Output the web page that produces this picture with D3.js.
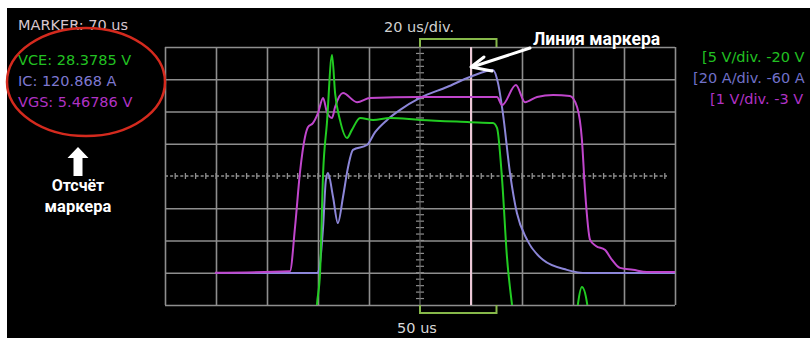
<!DOCTYPE html>
<html><head><meta charset="utf-8">
<script src="https://cdn.jsdelivr.net/npm/d3@7"></script>
<style>body{margin:0;background:#fff;overflow:hidden} svg{display:block}</style>
</head><body>
<svg id="c" width="810" height="338"></svg>
<script>
// ---- data (time in us, amplitude in screen divisions) ----
const timeTicks = [-50, -30, -10, 10, 30, 50, 70, 90, 110, 130, 150];
const divTicks = [0, 1, 2, 3, 4, 5, 6, 7, 8];
const markerTime = 70;
const bracketTimes = [50, 80];

const vgsT = [-30.4, -1.0, 1.0, 2.9, 4.9, 6.1, 8.0, 10.0, 12.0, 13.5, 15.5, 16.7, 19.8, 25.3, 30.4, 50, 80.2, 82.2, 87.6, 91.2, 95.9, 102.2, 108.8, 111.6, 113.5, 114.7, 116.7, 119.0, 122.5, 125.3, 128.4, 133.5, 139, 150];
const vgsV = [1.0, 1.05, 2.42, 4.09, 5.21, 5.52, 5.64, 5.95, 6.42, 5.98, 5.80, 6.14, 6.57, 6.29, 6.42, 6.45, 6.45, 6.20, 6.82, 6.29, 6.45, 6.51, 6.48, 6.14, 5.12, 3.57, 2.02, 1.83, 1.71, 1.40, 1.15, 1.09, 1.02, 1.02];

const vceT = [-30, 9.2, 9.6, 10.8, 12.0, 13.5, 15.5, 16.7, 18.6, 21.4, 23.3, 26.5, 31.6, 38.2, 50, 69.6, 78.6, 80.2, 82.2, 84.1, 86.1, 86.9, 111.2, 112.0, 113.5, 115.5, 116.3, 150];
const vceV = [-0.5, -0.5, 0.0, 0.99, 4.09, 5.64, 7.75, 6.57, 5.74, 5.18, 5.43, 5.80, 5.74, 5.80, 5.74, 5.67, 5.64, 5.49, 3.88, 1.49, 0.0, -0.5, -0.5, 0.06, 0.56, 0.06, -0.5, -0.5];

const icT = [-30.4, 9.8, 10.4, 12.0, 13.1, 13.9, 15.9, 17.8, 19.8, 21.8, 23.7, 29.2, 32.4, 37.1, 42.2, 50, 60.6, 69.6, 78.6, 80.6, 82.5, 85.3, 88.0, 92.0, 98.2, 107.6, 115.5, 124.5, 150];
const icV = [0.99, 0.99, 1.09, 2.42, 3.88, 4.09, 3.35, 2.54, 3.35, 4.28, 4.81, 4.96, 5.36, 5.74, 6.05, 6.42, 6.76, 7.07, 7.29, 6.88, 5.95, 4.09, 2.85, 2.02, 1.40, 1.09, 0.99, 0.99, 0.99];

const readoutLabels = ["MARKER: 70 us", "VCE: 28.3785 V", "IC: 120.868 A", "VGS: 5.46786 V"];
const scaleLabels = ["[5 V/div. -20 V", "[20 A/div. -60 A", "[1 V/div. -3 V"];
const timebaseLabel = "20 us/div.";
const positionLabel = "50 us";
const annotMarkerLine = "Линия маркера";
const annotReadout = ["Отсчёт", "маркера"];

// ---- drawing ----
const svg = d3.select("#c");
const W = 810, H = 338;
const L = 165, R = 675, T = 47, B = 305;
const x = d3.scaleLinear().domain([-50, 150]).range([L, R]);
const y = d3.scaleLinear().domain([0, 8]).range([B, T]);

svg.append("rect").attr("x", 7).attr("y", 8).attr("width", W - 7).attr("height", H - 8).attr("fill", "#000");

const gridCol = "#8e8e8e";
// vertical grid via axis
const gx = svg.append("g").attr("transform", `translate(0,${B})`)
  .call(d3.axisBottom(x).tickValues(timeTicks.filter(t => t !== 50)).tickSize(-(B - T)).tickFormat(""));
gx.select(".domain").remove();
gx.selectAll("line").attr("stroke", gridCol).attr("stroke-width", 1.6);
// horizontal grid via axis
const gy = svg.append("g").attr("transform", `translate(${L},0)`)
  .call(d3.axisLeft(y).tickValues(divTicks.filter(d => d !== 4)).tickSize(-(R - L)).tickFormat(""));
gy.select(".domain").remove();
gy.selectAll("line").attr("stroke", gridCol).attr("stroke-width", 1.6);

// center graticule with minor ticks
const minorT = d3.range(-50, 150.01, 4);
const minorD = d3.range(0, 8.01, 0.2);
svg.append("g").selectAll("line").data(minorT.filter(t => t > -50 && t < 150)).join("line")
  .attr("x1", d => x(d)).attr("x2", d => x(d)).attr("y1", y(4) - 3).attr("y2", y(4) + 3)
  .attr("stroke", gridCol).attr("stroke-width", 1.3);
svg.append("line").attr("x1", L).attr("x2", R - 8).attr("y1", y(4)).attr("y2", y(4))
  .attr("stroke", gridCol).attr("stroke-width", 1.3).attr("stroke-dasharray", "3,2.1");
svg.append("g").selectAll("line").data(minorD.filter(d => d > 0 && d < 8)).join("line")
  .attr("x1", x(50) - 4).attr("x2", x(50) + 4).attr("y1", d => y(d)).attr("y2", d => y(d))
  .attr("stroke", gridCol).attr("stroke-width", 1.2);
svg.append("line").attr("x1", x(50)).attr("x2", x(50)).attr("y1", T).attr("y2", B)
  .attr("stroke", "#6a6a6a").attr("stroke-width", 1.2);

// marker line
svg.append("line").attr("x1", x(markerTime)).attr("x2", x(markerTime)).attr("y1", T).attr("y2", B)
  .attr("stroke", "#ecc8d6").attr("stroke-width", 2);

// position brackets
const brCol = "#86b84a";
svg.append("path").attr("fill", "none").attr("stroke", brCol).attr("stroke-width", 2)
  .attr("d", `M${x(bracketTimes[0])},${T} V${T - 8} H${x(bracketTimes[1])} V${T}`);
svg.append("path").attr("fill", "none").attr("stroke", brCol).attr("stroke-width", 2)
  .attr("d", `M${x(bracketTimes[0])},${B} V${B + 8} H${x(bracketTimes[1])} V${B}`);

// traces
svg.append("clipPath").attr("id", "clip").append("rect").attr("x", L).attr("y", T).attr("width", R - L).attr("height", B - T);
const line = d3.line().x(d => x(d[0])).y(d => y(d[1])).curve(d3.curveMonotoneX);
const traces = svg.append("g").attr("clip-path", "url(#clip)");
const series = [
  {t: icT, v: icV, c: "#8c86d8"},
  {t: vgsT, v: vgsV, c: "#c046cc"},
  {t: vceT, v: vceV, c: "#22cc22"}
];
series.forEach(s => {
  traces.append("path").datum(s.t.map((t, i) => [t, s.v[i]]))
    .attr("fill", "none").attr("stroke", s.c).attr("stroke-width", 2).attr("stroke-linejoin", "round")
    .attr("d", line);
});

// readouts
const mono = "'DejaVu Sans', sans-serif";
const roCols = ["#d8c6cf", "#22c022", "#7e78d0", "#b032c4"];
const roY = [30, 65, 86, 107];
readoutLabels.forEach((s, i) => {
  svg.append("text").attr("x", 18).attr("y", roY[i]).attr("fill", roCols[i])
    .attr("font-family", mono).attr("font-size", 14.5).text(s);
});
const scCols = ["#22c022", "#7070c8", "#b032c4"];
const scX = [702, 693, 710];
scaleLabels.forEach((s, i) => {
  svg.append("text").attr("x", scX[i]).attr("y", roY[i + 1] - 3).attr("fill", scCols[i])
    .attr("font-family", mono).attr("font-size", 14.5).text(s);
});
svg.append("text").attr("x", 419).attr("y", 32).attr("text-anchor", "middle").attr("fill", "#d0d0d0")
  .attr("font-family", mono).attr("font-size", 14.5).text(timebaseLabel);
svg.append("text").attr("x", 417).attr("y", 333).attr("text-anchor", "middle").attr("fill", "#d8d8d8")
  .attr("font-family", mono).attr("font-size", 14.5).text(positionLabel);

// red ellipse
svg.append("ellipse").attr("cx", 86).attr("cy", 82).attr("rx", 79).attr("ry", 54)
  .attr("fill", "none").attr("stroke", "#d42a1e").attr("stroke-width", 2.5);

// annotations
const ann = "Roboto, 'Open Sans', sans-serif";
svg.append("polygon").attr("fill", "#fff")
  .attr("points", "78,147 88.5,158 82.5,158 82.5,176 73.5,176 73.5,158 67.5,158");
svg.append("text").attr("x", 78).attr("y", 191).attr("text-anchor", "middle").attr("fill", "#fff")
  .attr("font-family", ann).attr("font-weight", "bold").attr("font-size", 16).text(annotReadout[0]);
svg.append("text").attr("x", 78).attr("y", 212).attr("text-anchor", "middle").attr("fill", "#fff")
  .attr("font-family", ann).attr("font-weight", "bold").attr("font-size", 16.5).text(annotReadout[1]);
svg.append("text").attr("x", 533).attr("y", 45).attr("fill", "#fff")
  .attr("font-family", ann).attr("font-weight", "bold").attr("font-size", 17.5).text(annotMarkerLine);
svg.append("path").attr("fill", "none").attr("stroke", "#fff").attr("stroke-width", 3).attr("stroke-linecap", "round")
  .attr("d", "M530,48 L472,67");
svg.append("path").attr("fill", "none").attr("stroke", "#fff").attr("stroke-width", 3).attr("stroke-linecap", "round").attr("stroke-linejoin", "round")
  .attr("d", "M484,57 L471,67 L492,71");
</script>
</body></html>
